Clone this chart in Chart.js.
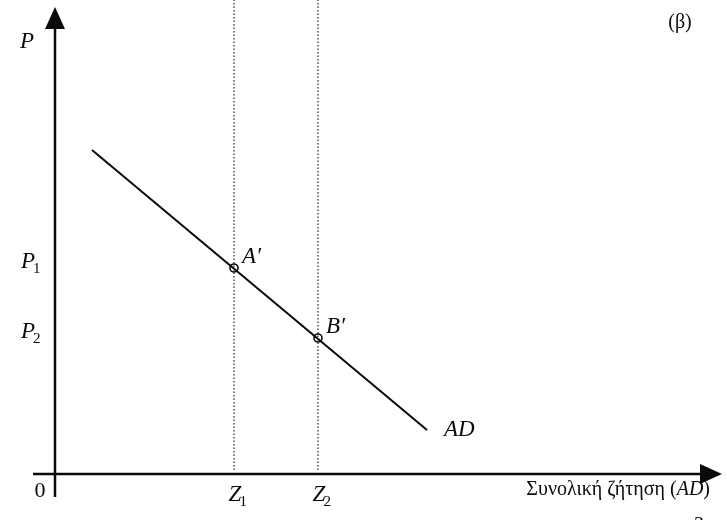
<!DOCTYPE html>
<html>
<head>
<meta charset="utf-8">
<script src="https://cdn.jsdelivr.net/npm/chart.js@4.4.1/dist/chart.umd.min.js"></script>
<style>
  html, body { margin: 0; padding: 0; background: #fff; }
  canvas { display: block; }
</style>
</head>
<body>
<canvas id="adChart" width="727" height="520"></canvas>
<script>
// AD curve endpoints (quantity, price)
const adX = [3.7, 37.2];
const adY = [32.4, 4.4];

// equilibrium points A' and B'
const pointX = [17.9, 26.3];
const pointY = [20.6, 13.6];
const pointNames = ["A′", "B′"];

// tick labels
const zSubs = ["1", "2"];
const pSubs = ["1", "2"];

// axes extent
const xAxisEnd = 66.7;
const yAxisEnd = 46.7;

const ink = "#0a0a0a";

const toPts = (xs, ys) => xs.map((x, i) => ({ x: x, y: ys[i] }));

// draw text with a small subscript after it
const drawSub = (ctx, main, sub, x, y, font, subFont) => {
  ctx.font = font;
  const w = ctx.measureText(main).width;
  ctx.textAlign = "left";
  ctx.textBaseline = "middle";
  ctx.fillText(main, x - w / 2, y);
  ctx.font = subFont;
  ctx.fillText(sub, x + w / 2 - 2, y + 7);
};

const labelsPlugin = {
  id: "labels",
  afterDatasetsDraw(chart) {
    const ctx = chart.ctx;
    const xs = chart.scales.x;
    const ys = chart.scales.y;
    const ox = xs.getPixelForValue(0);
    const oy = ys.getPixelForValue(0);

    ctx.save();
    ctx.fillStyle = ink;

    // arrow heads
    const ty = ys.getPixelForValue(yAxisEnd);
    ctx.beginPath();
    ctx.moveTo(ox, ty);
    ctx.lineTo(ox - 10, ty + 22);
    ctx.lineTo(ox + 10, ty + 22);
    ctx.closePath();
    ctx.fill();

    const tx = xs.getPixelForValue(xAxisEnd);
    ctx.beginPath();
    ctx.moveTo(tx, oy);
    ctx.lineTo(tx - 22, oy - 10);
    ctx.lineTo(tx - 22, oy + 10);
    ctx.closePath();
    ctx.fill();

    const italic = "italic 23px 'Liberation Serif', 'DejaVu Serif', serif";
    const upright = "20px 'Liberation Serif', 'DejaVu Serif', serif";
    const subFont = "15px 'Liberation Serif', 'DejaVu Serif', serif";

    // P axis title
    ctx.font = italic;
    ctx.textAlign = "center";
    ctx.textBaseline = "middle";
    ctx.fillText("P", ox - 28, ty + 35);

    // origin
    ctx.font = "22px 'Liberation Serif', 'DejaVu Serif', serif";
    ctx.fillText("0", ox - 15, oy + 17);

    // P1, P2 and Z1, Z2
    pointY.forEach((v, i) => {
      drawSub(ctx, "P", pSubs[i], ox - 27, ys.getPixelForValue(v) - 6, italic, subFont);
    });
    pointX.forEach((v, i) => {
      drawSub(ctx, "Z", zSubs[i], xs.getPixelForValue(v) + 1, oy + 21, italic, subFont);
    });

    // point names
    ctx.font = italic;
    ctx.textAlign = "left";
    pointX.forEach((v, i) => {
      ctx.fillText(pointNames[i], xs.getPixelForValue(v) + 8, ys.getPixelForValue(pointY[i]) - 11);
    });

    // AD curve label
    ctx.fillText("AD", xs.getPixelForValue(adX[1]) + 17, ys.getPixelForValue(adY[1]));

    // x axis title
    ctx.textAlign = "right";
    ctx.font = italic;
    const wAD = ctx.measureText("AD").width;
    const right = tx - 12;
    const ly = oy + 16;
    ctx.font = upright;
    ctx.fillText(")", right, ly);
    const wClose = ctx.measureText(")").width;
    ctx.font = "italic 20px 'Liberation Serif', 'DejaVu Serif', serif";
    const wAD2 = ctx.measureText("AD").width;
    ctx.fillText("AD", right - wClose, ly);
    ctx.font = upright;
    ctx.fillText("Συνολική ζήτηση (", right - wClose - wAD2, ly);

    // panel tag
    ctx.font = "20px 'Liberation Serif', 'DejaVu Serif', serif";
    ctx.textAlign = "center";
    ctx.fillText("(β)", 680, 23);

    // page number cut at the bottom
    ctx.fillText("3", 699, 526);

    ctx.restore();
  }
};

const dotted = (x) => ({
  data: [{ x: x, y: 0.4 }, { x: x, y: 48 }],
  showLine: true,
  borderColor: "#222",
  borderWidth: 1.2,
  borderDash: [1.5, 2],
  pointRadius: 0
});

new Chart(document.getElementById("adChart"), {
  type: "scatter",
  data: {
    datasets: [
      dotted(pointX[0]),
      dotted(pointX[1]),
      {
        data: [{ x: -2.2, y: 0 }, { x: xAxisEnd - 1, y: 0 }],
        showLine: true,
        borderColor: ink,
        borderWidth: 2.5,
        pointRadius: 0
      },
      {
        data: [{ x: 0, y: -2.3 }, { x: 0, y: yAxisEnd - 1 }],
        showLine: true,
        borderColor: ink,
        borderWidth: 2.5,
        pointRadius: 0
      },
      {
        data: toPts(adX, adY),
        showLine: true,
        borderColor: ink,
        borderWidth: 2,
        pointRadius: 0
      },
      {
        data: toPts(pointX, pointY),
        showLine: false,
        pointRadius: 4,
        pointBackgroundColor: "#fff",
        pointBorderColor: ink,
        pointBorderWidth: 1.6
      }
    ]
  },
  options: {
    responsive: false,
    animation: false,
    devicePixelRatio: 1,
    layout: { padding: 0, autoPadding: false },
    plugins: {
      legend: { display: false },
      tooltip: { enabled: false }
    },
    scales: {
      x: { type: "linear", display: false, min: -5.5, max: 67.2 },
      y: { type: "linear", display: false, min: -4.6, max: 47.4 }
    }
  },
  plugins: [labelsPlugin]
});
</script>
</body>
</html>
